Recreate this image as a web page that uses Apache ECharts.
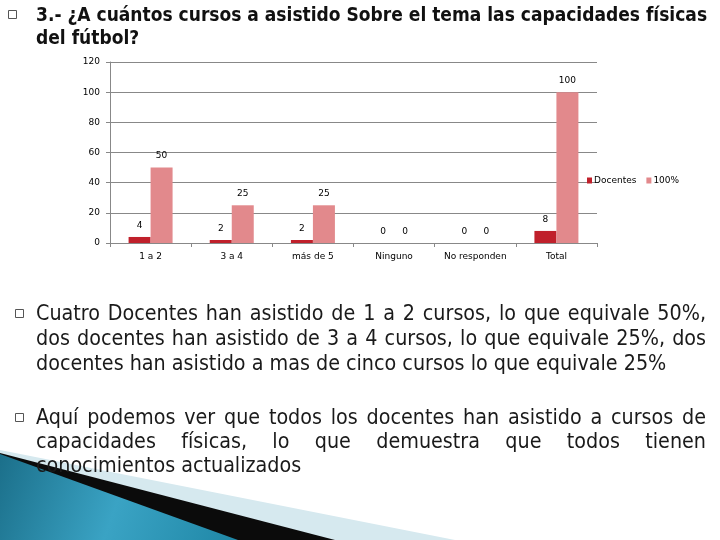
<!DOCTYPE html>
<html>
<head>
    <meta charset="utf8">
    <title>ECharts</title>
    <script src="https://cdn.jsdelivr.net/npm/echarts@6/dist/echarts.min.js"></script>
    <style>
        html, body { margin: 0; padding: 0; background: #fff; }
    </style>
</head>
<body>
    <div id="main" style="width: 720px;height:540px;"></div>
    <script type="text/javascript">
        // datos del grafico
        var categorias = ['1 a 2', '3 a 4', 'más de 5', 'Ninguno', 'No responden', 'Total'];
        var docentes = [4, 2, 2, 0, 0, 8];
        var porcentaje = [50, 25, 25, 0, 0, 100];
        var yTicks = [0, 20, 40, 60, 80, 100, 120];

        var titulo = ['3.- ¿A cuántos cursos a asistido Sobre el tema las capacidades físicas', 'del fútbol?'];
        var parrafo1 = [
            'Cuatro  Docentes han asistido de 1 a 2 cursos, lo que equivale 50%,',
            'dos docentes han asistido de 3 a 4 cursos, lo que equivale 25%, dos',
            'docentes han asistido a mas de cinco cursos lo que equivale 25%'
        ];
        var parrafo2 = [
            'Aquí podemos ver que todos los docentes han asistido a cursos de',
            'capacidades físicas, lo que demuestra que todos tienen',
            'conocimientos actualizados'
        ];

        var familia = "'Liberation Sans Narrow', 'DejaVu Sans Condensed', sans-serif";
        var ctx = document.createElement('canvas').getContext('2d');

        function medir(txt, font) {
            ctx.font = font;
            return ctx.measureText(txt).width;
        }
        // tamaño de letra para que un texto ocupe un ancho dado
        function ajustar(txt, ancho, peso) {
            var w = medir(txt, peso + ' 20px ' + familia);
            return 20 * ancho / w;
        }

        // una linea, justificada o no
        function linea(txt, x, y, ancho, font, justificar, color) {
            var els = [];
            if (!justificar) {
                els.push({ type: 'text', x: x, y: y, z: 10,
                    style: { text: txt, font: font, fill: color, textVerticalAlign: 'middle' } });
                return els;
            }
            var palabras = txt.split(' ').filter(function (p) { return p.length; });
            var total = 0;
            palabras.forEach(function (p) { total += medir(p, font); });
            var hueco = (ancho - total) / (palabras.length - 1);
            var cx = x;
            palabras.forEach(function (p) {
                els.push({ type: 'text', x: cx, y: y, z: 10,
                    style: { text: p, font: font, fill: color, textVerticalAlign: 'middle' } });
                cx += medir(p, font) + hueco;
            });
            return els;
        }

        var graficos = [];
        // decoracion inferior izquierda
        graficos.push({ type: 'polygon', z: 1, shape: { points: [[0, 450], [455, 540], [0, 540]] },
            style: { fill: '#d6e9ef' } });
        graficos.push({ type: 'polygon', z: 2, shape: { points: [[0, 453], [335, 540], [0, 540]] },
            style: { fill: '#0b0b0b' } });
        graficos.push({ type: 'polygon', z: 3, shape: { points: [[0, 454], [238, 540], [0, 540]] },
            style: { fill: new echarts.graphic.LinearGradient(0, 0, 1, 1, [
                { offset: 0, color: '#1b6f8a' }, { offset: 0.5, color: '#3aa3c4' }, { offset: 1, color: '#1f87a6' }]) } });

        // titulo
        var tamTitulo = ajustar(titulo[0], 672, 'bold');
        var fTitulo = 'bold ' + tamTitulo.toFixed(1) + 'px ' + familia;
        graficos.push({ type: 'rect', z: 10, shape: { x: 8.5, y: 10.5, width: 8, height: 8 },
            style: { fill: 'none', stroke: '#555', lineWidth: 1 } });
        graficos = graficos.concat(linea(titulo[0], 36, 16, 672, fTitulo, false, '#111'));
        graficos = graficos.concat(linea(titulo[1], 36, 39, 672, fTitulo, false, '#111'));

        // parrafos
        var tamTexto = ajustar(parrafo1[2], 629, 'normal');
        var fTexto = 'normal ' + tamTexto.toFixed(1) + 'px ' + familia;
        var ys1 = [314, 339, 364], ys2 = [418, 442, 466];
        [[parrafo1, ys1], [parrafo2, ys2]].forEach(function (par) {
            graficos.push({ type: 'rect', z: 10, shape: { x: 15.5, y: par[1][0] - 4.5, width: 8, height: 8 },
                style: { fill: 'none', stroke: '#555', lineWidth: 1 } });
            par[0].forEach(function (t, i) {
                graficos = graficos.concat(linea(t, 36, par[1][i], 670, fTexto, i < par[0].length - 1, '#1a1a1a'));
            });
        });

        var myChart = echarts.init(document.getElementById('main'));
        var etiqueta = {
            show: true,
            position: 'top',
            distance: 7,
            color: '#000',
            fontSize: 9,
            fontFamily: 'DejaVu Sans'
        };
        var option = {
            backgroundColor: '#fff',
            animation: false,
            grid: {
                left: 110,
                right: 123,
                top: 62,
                bottom: 297,
                containLabel: false,
                outerBoundsMode: 'none'
            },
            legend: {
                left: 582,
                top: 171,
                itemWidth: 5,
                itemHeight: 6,
                itemGap: 10,
                icon: 'rect',
                textStyle: { fontSize: 9, color: '#000', fontFamily: 'DejaVu Sans', padding: [0, 0, 0, -3] },
                data: ['Docentes', '100%']
            },
            xAxis: {
                type: 'category',
                data: categorias,
                axisLine: { lineStyle: { color: '#888', width: 1 } },
                axisTick: { show: true, length: 4, lineStyle: { color: '#888' } },
                axisLabel: { color: '#000', fontSize: 9, fontFamily: 'DejaVu Sans', margin: 9, interval: 0 }
            },
            yAxis: {
                type: 'value',
                min: 0,
                max: yTicks[yTicks.length - 1],
                interval: 20,
                axisLine: { show: true, lineStyle: { color: '#888', width: 1 } },
                axisTick: { show: true, length: 4, lineStyle: { color: '#888' } },
                axisLabel: { color: '#000', fontSize: 9, fontFamily: 'DejaVu Sans', margin: 10 },
                splitLine: { show: true, lineStyle: { color: '#888', width: 1 } }
            },
            series: [
                {
                    name: 'Docentes',
                    type: 'bar',
                    data: docentes,
                    barWidth: 22,
                    barGap: '0%',
                    itemStyle: { color: '#c0202b' },
                    label: etiqueta
                },
                {
                    name: '100%',
                    type: 'bar',
                    data: porcentaje,
                    barWidth: 22,
                    itemStyle: { color: '#e2898c' },
                    label: etiqueta
                }
            ],
            graphic: graficos
        };
        myChart.setOption(option);
    </script>
</body>
</html>
